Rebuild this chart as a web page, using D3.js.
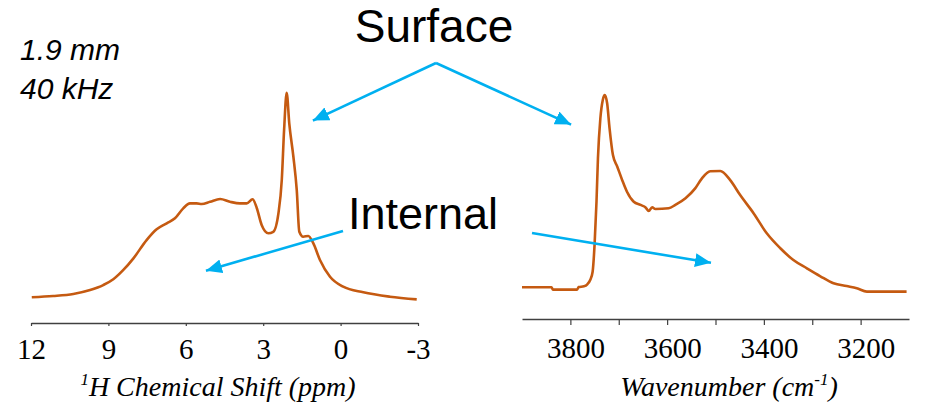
<!DOCTYPE html>
<html>
<head>
<meta charset="utf-8">
<script src="https://cdn.jsdelivr.net/npm/d3@7"></script>
<style>
  html, body { margin: 0; padding: 0; background: #fff; }
  svg { display: block; }
</style>
</head>
<body>
<svg id="chart" width="925" height="405"></svg>
<script>
// 1H MAS NMR spectrum (chemical shift in ppm, normalised intensity)
const nmrShift = [11.97, 11.14, 10.36, 9.71, 9.20, 8.81, 8.42, 8.03, 7.52, 7.13, 6.74, 6.42,
  6.10, 5.84, 5.58, 5.38, 5.06, 4.67, 4.29, 3.90, 3.64, 3.41, 3.25, 3.06, 2.80, 2.61, 2.41,
  2.28, 2.19, 2.09, 1.99, 1.83, 1.70, 1.60, 1.45, 1.25, 1.06, 0.80, 0.41, -0.10, -0.88, -1.91, -2.95];
const nmrIntensity = [0.013, 0.019, 0.029, 0.048, 0.072, 0.100, 0.145, 0.201, 0.289, 0.341, 0.370, 0.394,
  0.442, 0.466, 0.466, 0.463, 0.474, 0.487, 0.474, 0.466, 0.466, 0.486, 0.444, 0.362, 0.322, 0.329, 0.418,
  0.579, 0.820, 1.000, 0.852, 0.691, 0.531, 0.329, 0.305, 0.309, 0.274, 0.193, 0.112, 0.064, 0.037, 0.016, 0.003];

// IR spectrum (wavenumber in cm-1, normalised absorbance)
const irWavenumber = [3900, 3839, 3836, 3786, 3783, 3772, 3765, 3759, 3754, 3750, 3746, 3743, 3738,
  3733, 3729, 3724, 3719, 3712, 3703, 3693, 3683, 3669, 3655, 3644, 3638, 3631, 3624, 3597, 3583,
  3562, 3542, 3528, 3511, 3490, 3470, 3449, 3421, 3394, 3366, 3339, 3311, 3284, 3256, 3229, 3208, 3187, 3105];
const irAbsorbance = [0.024, 0.024, 0.012, 0.012, 0.025, 0.029, 0.039, 0.061, 0.103, 0.239, 0.458, 0.679, 0.882,
  0.975, 1.000, 0.958, 0.831, 0.695, 0.636, 0.569, 0.509, 0.458, 0.442, 0.428, 0.411, 0.430, 0.421, 0.425, 0.442,
  0.476, 0.526, 0.577, 0.613, 0.614, 0.569, 0.492, 0.399, 0.298, 0.222, 0.162, 0.120, 0.081, 0.044, 0.030, 0.019, 0.002, 0.002];

// Axis ticks
const nmrTicks = [12, 9, 6, 3, 0, -3];
const irTicks = [3800, 3700, 3600, 3500, 3400, 3300, 3200];
const irTickLabels = [3800, 3600, 3400, 3200];

const svg = d3.select("#chart");
const curveColor = "#C55A11";
const arrowColor = "#00B0F0";
const serif = "'Liberation Serif', 'Times New Roman', serif";
const sans = "'Liberation Sans', Arial, sans-serif";

// ---------- NMR panel ----------
const xNmr = d3.scaleLinear().domain([12, -3]).range([31, 418]);
const yNmr = d3.scaleLinear().domain([0, 1]).range([300, 92.7]);

const nmrData = nmrShift.map((s, i) => ({ x: s, y: nmrIntensity[i] }));
svg.append("path")
  .datum(nmrData)
  .attr("fill", "none")
  .attr("stroke", curveColor)
  .attr("stroke-width", 2.6)
  .attr("stroke-linejoin", "round")
  .attr("d", d3.line().x(d => xNmr(d.x)).y(d => yNmr(d.y)).curve(d3.curveMonotoneX));

const gNmrAxis = svg.append("g")
  .attr("transform", "translate(0,323)")
  .call(d3.axisBottom(xNmr).tickValues(nmrTicks).tickSizeInner(3).tickSizeOuter(0).tickPadding(12)
    .tickFormat(d => String(d)));

// ---------- IR panel ----------
const xIr = d3.scaleLinear().domain([3900, 3100]).range([522, 909]);
const yIr = d3.scaleLinear().domain([0, 1]).range([292, 95]);

const irData = irWavenumber.map((w, i) => ({ x: w, y: irAbsorbance[i] }));
svg.append("path")
  .datum(irData)
  .attr("fill", "none")
  .attr("stroke", curveColor)
  .attr("stroke-width", 2.6)
  .attr("stroke-linejoin", "round")
  .attr("d", d3.line().x(d => xIr(d.x)).y(d => yIr(d.y)).curve(d3.curveMonotoneX));

const gIrAxis = svg.append("g")
  .attr("transform", "translate(0,319)")
  .call(d3.axisBottom(xIr).tickValues(irTicks).tickSizeInner(6).tickSizeOuter(0).tickPadding(12)
    .tickFormat(d => irTickLabels.includes(d) ? String(d) : ""));

// axis styling
[gNmrAxis, gIrAxis].forEach(g => {
  g.attr("font-family", null);
  g.select(".domain").attr("stroke", "#404040").attr("stroke-width", 1.4);
  g.selectAll(".tick line").attr("stroke", "#404040").attr("stroke-width", 1.2);
  g.selectAll(".tick text")
    .attr("fill", "#000")
    .attr("font-family", serif)
    .style("font-family", serif)
    .style("font-size", "29px");
});
gIrAxis.selectAll(".tick text").attr("dx", 5);

// axis titles
const nmrTitle = svg.append("text")
  .attr("x", 218).attr("y", 396)
  .attr("text-anchor", "middle")
  .style("font-family", serif).style("font-style", "italic").style("font-size", "28px")
  .attr("fill", "#000");
nmrTitle.append("tspan").attr("dy", -11).style("font-size", "17px").text("1");
nmrTitle.append("tspan").attr("dy", 11).text("H Chemical Shift (ppm)");

const irTitle = svg.append("text")
  .attr("x", 729).attr("y", 396)
  .attr("text-anchor", "middle")
  .style("font-family", serif).style("font-style", "italic").style("font-size", "28px")
  .attr("fill", "#000");
irTitle.append("tspan").text("Wavenumber (cm");
irTitle.append("tspan").attr("dy", -11).style("font-size", "17px").text("-1");
irTitle.append("tspan").attr("dy", 11).text(")");

// ---------- annotations ----------
svg.append("text").attr("x", 20).attr("y", 60)
  .style("font-family", sans).style("font-style", "italic").style("font-size", "30px")
  .attr("fill", "#000").text("1.9 mm");
svg.append("text").attr("x", 20).attr("y", 99)
  .style("font-family", sans).style("font-style", "italic").style("font-size", "30px")
  .attr("fill", "#000").text("40 kHz");

svg.append("text").attr("x", 434).attr("y", 42).attr("text-anchor", "middle")
  .style("font-family", sans).style("font-size", "46px")
  .attr("fill", "#000").text("Surface");
svg.append("text").attr("x", 348).attr("y", 229)
  .style("font-family", sans).style("font-size", "45px")
  .attr("fill", "#000").text("Internal");

// arrowhead marker
const defs = svg.append("defs");
defs.append("marker")
  .attr("id", "arrowhead")
  .attr("viewBox", "0 0 16 14")
  .attr("refX", 16).attr("refY", 7)
  .attr("markerWidth", 16).attr("markerHeight", 14)
  .attr("markerUnits", "userSpaceOnUse")
  .attr("orient", "auto")
  .append("path")
  .attr("d", "M0,0 L16,7 L0,14 Z")
  .attr("fill", arrowColor);

const arrows = [
  [[436, 63], [312, 121]],
  [[436, 63], [572, 125]],
  [[343, 231], [205, 271]],
  [[532, 233], [712, 263]]
];
arrows.forEach(([a, b]) => {
  // shorten the shaft so it ends inside the arrowhead
  const dx = b[0] - a[0], dy = b[1] - a[1];
  const len = Math.hypot(dx, dy);
  svg.append("line")
    .attr("x1", a[0]).attr("y1", a[1])
    .attr("x2", a[0] + dx * (len - 1) / len).attr("y2", a[1] + dy * (len - 1) / len)
    .attr("stroke", arrowColor)
    .attr("stroke-width", 2.6)
    .attr("marker-end", "url(#arrowhead)");
});
</script>
</body>
</html>
